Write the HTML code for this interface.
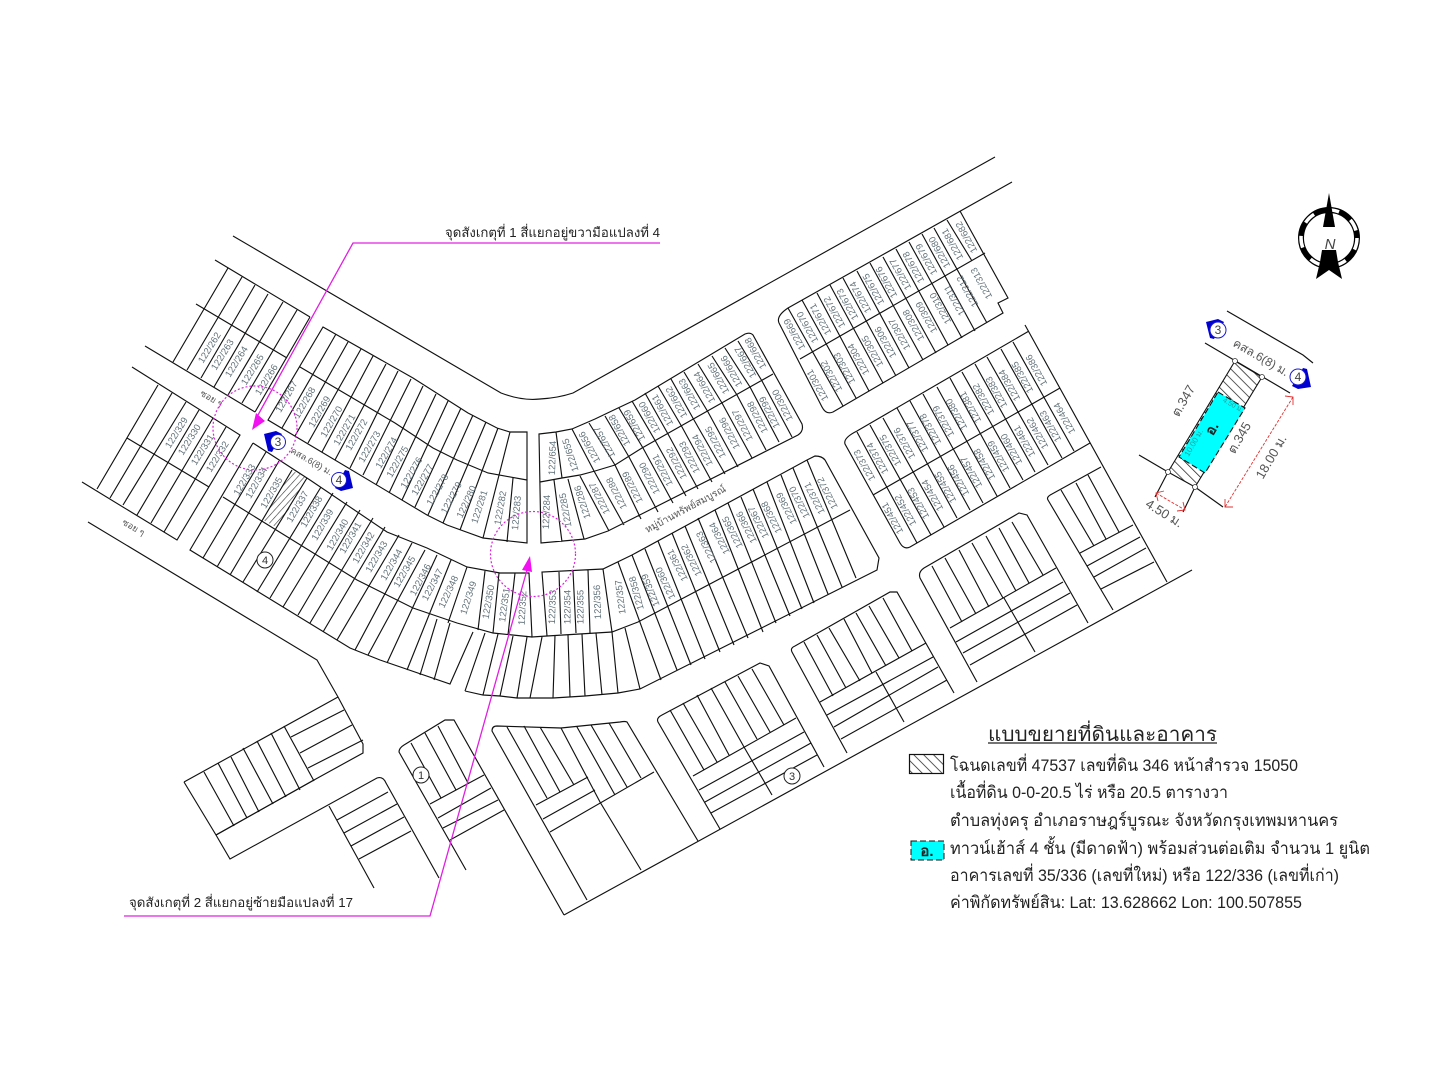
<!DOCTYPE html>
<html><head><meta charset="utf-8"><style>
html,body{margin:0;padding:0;background:#fff}
svg{display:block;filter:blur(.35px)}
.l{fill:none;stroke:#111;stroke-width:1.15}
.t text{font:9.5px "Liberation Sans","DejaVu Sans",sans-serif;fill:#63737b;text-anchor:middle;dominant-baseline:central}
.g{font-family:"Liberation Sans","DejaVu Sans","Noto Sans CJK JP",sans-serif;fill:#555}
.k{font-family:"Liberation Sans","DejaVu Sans","Noto Sans CJK JP",sans-serif;fill:#222}
</style></head><body>
<svg width="1440" height="1080" viewBox="0 0 1440 1080" xmlns="http://www.w3.org/2000/svg">
<defs>
<pattern id="h2" width="7" height="7" patternUnits="userSpaceOnUse" patternTransform="rotate(-45)"><rect width="7" height="7" fill="#fff"/><line x1="0" y1="0" x2="0" y2="7" stroke="#222" stroke-width="1.5"/></pattern>
<pattern id="h3" width="5" height="5" patternUnits="userSpaceOnUse" patternTransform="rotate(42)"><rect width="5" height="5" fill="#fff"/><line x1="0" y1="0" x2="0" y2="5" stroke="#333" stroke-width="1.2"/></pattern>
</defs>
<rect width="1440" height="1080" fill="#fff"/>

<polygon points="292,470 307,478 278,528 263,520" fill="url(#h3)"/>

<!-- roads -->
<path class="l" d="M233,236L501,393Q522,401 540,399Q558,398 573,393L995,157M779,323Q776,316 788,308L1012,182M564,915L1192,570M88,522L317,660L338,697L363,744L363,753L314,780L216,835L230,859L377,778Q383,776 386,783L439,878M184,782L338,697M184,782L216,835M329,806L374,888"/>

<!-- Block A -->
<path class="l" d="M215,260L310,317M196,304L287,358M145,346L255,412M228,268L173,362M242,277L187,370M255,285L201,378M268,294L214,387M283,302L228,395M297,310L242,403M310,317L255,412"/>
<!-- Block B -->
<path class="l" d="M323,327L413,378L468,413L497,428L510,432L527,432L527,543L483,538L447,525L427,515L268,420ZM300,367L395,423L433,448L457,460L488,473L527,480M336,334L282,428M348,342L295,436M361,349L308,443M373,356L322,452M386,364L335,460M398,371L350,468M411,379L363,475M423,386L376,485M436,394L389,493M448,401L402,500M461,408L415,507M473,415L428,515M486,422L443,523M498,428L460,530M510,432L483,538M513,478L507,542"/>
<!-- Block C -->
<path class="l" d="M132,367L240,435L177,540L82,482M127,438L209,487M158,385L97,489M172,393L110,498M186,402L123,505M199,410L137,515M213,418L151,523M226,427L164,532"/>
<!-- Block D -->
<path class="l" d="M253,443L310,480L387,532L427,548L467,567L500,573L529,573L532,637L547,636L612,632L638,622L850,510M253,443L190,550L350,648L380,660L450,684L473,632M223,497L357,580L413,608L457,623L493,633L532,637M266,452L203,558M279,461L217,567M292,470L230,575M307,478L243,582M321,487L257,592M333,493L270,598M347,502L283,607M360,510L298,615M373,518L310,623M385,527L323,632M399,535L337,640M412,543L355,650M425,550L368,655M437,555L387,663M451,560L407,670M467,567L448,623M420,675L437,619M434,680L450,623M485,571L478,630M499,573L493,633M515,573L508,635"/>
<!-- Lower row middle -->
<path class="l" d="M465,691L483,695L500,696L517,698L553,698L585,696L618,693L640,689L877,570L879,558L825,460Q822,456 815,456L807,460L632,555L603,569L542,572L547,636M465,691L485,633M483,695L498,634M500,696L513,636M517,698L527,637M530,698L542,637M553,698L555,635M570,697L568,635M585,696L582,634M602,695L596,633M618,693L612,632M640,689L625,628M559,572L561,634M573,571L576,633M588,570L590,633M603,569L612,632M618,562L661,680M632,555L677,670M645,549L691,665M658,541L705,659M672,533L720,652M685,526L734,645M698,518L748,638M715,510L763,632M728,503L776,623M741,497L790,616M753,489L802,609M767,482L814,603M781,475L828,594M793,468L842,587M807,460L856,578"/>
<!-- Center block -->
<path class="l" d="M539,434L556,432L572,429L595,419L618,408L635,400L745,334Q750,332 753,335L802,424Q804,431 798,435L608,531L585,539L541,543ZM540,482L562,478L580,475L595,471L615,465L642,448L773,374M556,432L562,478M554,480L562,542M568,479L584,539M572,429L594,471M589,423L615,465M605,416L629,457M619,408L643,448M632,401L656,442M645,393L668,434M658,386L682,427M671,379L694,420M684,372L708,412M698,364L722,403M712,356L737,395M725,348L750,387M738,341L762,381M580,476L609,531M594,471L624,525M615,465L641,519M629,457L658,512M643,448L673,503M656,442L686,496M668,434L698,489M682,427L712,482M694,420L725,474M708,412L738,467M722,403L752,458M737,395L766,450M750,387L779,442M762,381L792,437"/>
<!-- NE-1 -->
<path class="l" d="M779,323L822,407Q826,415 833,412L1003,313L998,303L1008,298L960,211M800,359L985,253M788,308L843,406M802,300L856,398M817,293L869,391M830,285L883,383M843,278L896,376M857,271L909,368M870,263L923,360M883,257L936,353M896,249L948,345M909,242L962,338M922,234L975,331M934,228L987,323M947,220L972,261"/>
<!-- NE-2 -->
<path class="l" d="M1029,331L857,431Q843,438 845,444L900,543Q904,550 910,547L1090,443M1025,325L1167,582M873,495L1060,388M857,432L917,543M870,425L931,535M883,418L944,527M897,408L957,518M910,401L970,510M923,394L983,503M937,387L997,496M950,378L1010,488M962,372L1023,480M975,364L1035,472M987,357L1048,465M1001,349L1062,458M1013,342L1074,451"/>
<!-- West lots -->
<path class="l" d="M216,835L314,780M204,772L234,826M218,763L247,818M231,757L259,812M243,748L273,804M257,741L286,797M271,733L300,790M284,726L314,781M291,737L344,710M300,753L352,725M308,768L363,740"/>
<path class="l" d="M337,820L388,792M344,833L397,804M351,846L404,817M359,859L411,831"/>
<!-- Block 1 -->
<path class="l" d="M466,870L399,752Q399,748 404,745L445,720L454,720L564,915M450,840L504,810M430,804L484,775M438,818L491,788M443,828L498,800M411,743L441,798M425,733L456,790M438,726L468,783"/>
<!-- SW big -->
<path class="l" d="M587,900L492,731Q492,726 497,726L561,728L620,722Q625,721 627,722L698,841M536,805L588,777M543,819L595,790M550,832L654,772M507,727L547,798M524,726L560,792M540,727L574,785M561,728L600,802L641,870M577,727L615,795M591,725L627,787M609,723L641,778"/>
<!-- F -->
<path class="l" d="M720,829L658,722Q656,718 662,715L760,663L769,666L824,767M693,776L796,718M699,790L804,732M705,802L811,743M711,813L817,755M670,710L704,770M683,703L717,762M697,695L729,755M711,688L744,747M725,682L757,739M738,676L770,732M752,669L784,725M744,747L772,795"/>
<!-- G -->
<path class="l" d="M847,753L792,652Q790,648 795,646L890,592L897,592L954,693M820,702L926,643M827,715L933,657M834,727L938,667M841,739L947,680M804,642L833,696M817,635L846,688M829,628L860,681M844,619L872,673M856,613L886,666M869,606L899,658M883,598L912,651M876,672L904,722"/>
<!-- H -->
<path class="l" d="M977,682L920,578Q918,572 924,568L1019,513L1027,515L1088,623M950,628L1056,568M956,642L1063,582M963,653L1070,593M970,665L1077,605M932,566L962,622M945,558L976,614M959,550L989,607M972,543L1003,598M986,536L1016,591M999,528L1029,583M1012,522L1043,575M1004,598L1035,652"/>
<!-- I -->
<path class="l" d="M1113,610L1048,500Q1046,497 1052,494L1101,467M1080,553L1133,525M1087,566L1140,537M1094,577L1146,548M1101,589L1154,562M1061,490L1094,546M1076,483L1106,539M1088,475L1119,532"/>

<!-- lot labels -->
<g class="t">
<text transform="translate(210 348) rotate(-58)">122/262</text><text transform="translate(223 355) rotate(-58)">122/263</text><text transform="translate(237 362) rotate(-58)">122/264</text><text transform="translate(253 370) rotate(-58)">122/265</text><text transform="translate(267 380) rotate(-58)">122/266</text>
<text transform="translate(287 397) rotate(-60)">122/267</text><text transform="translate(305 403) rotate(-60)">122/268</text><text transform="translate(320 412) rotate(-60)">122/269</text><text transform="translate(332 422) rotate(-60)">122/270</text><text transform="translate(345 430) rotate(-60)">122/271</text><text transform="translate(357 435) rotate(-60)">122/272</text><text transform="translate(370 447) rotate(-60)">122/273</text><text transform="translate(387 453) rotate(-60)">122/274</text><text transform="translate(398 462) rotate(-60)">122/275</text><text transform="translate(412 473) rotate(-60)">122/276</text><text transform="translate(423 480) rotate(-60)">122/277</text><text transform="translate(438 490) rotate(-60)">122/278</text><text transform="translate(452 498) rotate(-62)">122/279</text><text transform="translate(467 502) rotate(-65)">122/280</text><text transform="translate(480 507) rotate(-72)">122/281</text><text transform="translate(501 508) rotate(-80)">122/282</text><text transform="translate(517 513) rotate(-85)">122/283</text>
<text transform="translate(177 433) rotate(-58)">122/329</text><text transform="translate(190 440) rotate(-58)">122/330</text><text transform="translate(203 450) rotate(-58)">122/331</text><text transform="translate(218 457) rotate(-58)">122/332</text>
<text transform="translate(245 480) rotate(-60)">122/333</text><text transform="translate(257 483) rotate(-60)">122/334</text><text transform="translate(272 493) rotate(-60)">122/335</text><text transform="translate(298 507) rotate(-60)">122/337</text><text transform="translate(312 512) rotate(-60)">122/338</text><text transform="translate(323 525) rotate(-60)">122/339</text><text transform="translate(338 535) rotate(-60)">122/340</text><text transform="translate(351 538) rotate(-60)">122/341</text><text transform="translate(364 548) rotate(-60)">122/342</text><text transform="translate(377 557) rotate(-60)">122/343</text><text transform="translate(392 565) rotate(-60)">122/344</text><text transform="translate(405 572) rotate(-60)">122/345</text><text transform="translate(421 580) rotate(-62)">122/346</text><text transform="translate(433 585) rotate(-62)">122/347</text><text transform="translate(449 592) rotate(-65)">122/348</text><text transform="translate(469 598) rotate(-72)">122/349</text><text transform="translate(489 602) rotate(-80)">122/350</text><text transform="translate(505 605) rotate(-82)">122/351</text><text transform="translate(523 608) rotate(-87)">122/352</text>
<text transform="translate(553 607) rotate(-88)">122/353</text><text transform="translate(568 607) rotate(-90)">122/354</text><text transform="translate(581 607) rotate(-90)">122/355</text><text transform="translate(598 602) rotate(-92)">122/356</text><text transform="translate(621 597) rotate(-97)">122/357</text><text transform="translate(637 593) rotate(-105)">122/358</text><text transform="translate(651 590) rotate(-112)">122/359</text><text transform="translate(666 583) rotate(-115)">122/360</text><text transform="translate(678 565) rotate(-117)">122/361</text><text transform="translate(692 560) rotate(-117)">122/362</text><text transform="translate(707 547) rotate(-117)">122/363</text><text transform="translate(720 538) rotate(-117)">122/364</text><text transform="translate(733 532) rotate(-117)">122/365</text><text transform="translate(747 527) rotate(-117)">122/366</text><text transform="translate(759 522) rotate(-117)">122/367</text><text transform="translate(772 517) rotate(-117)">122/368</text><text transform="translate(787 508) rotate(-117)">122/369</text><text transform="translate(800 502) rotate(-117)">122/370</text><text transform="translate(815 498) rotate(-117)">122/371</text><text transform="translate(828 493) rotate(-117)">122/372</text>
<text transform="translate(553 458) rotate(-88)">122/654</text><text transform="translate(571 455) rotate(-108)">122/655</text><text transform="translate(590 447) rotate(-119)">122/656</text><text transform="translate(605 442) rotate(-119)">122/657</text><text transform="translate(620 430) rotate(-119)">122/658</text><text transform="translate(635 425) rotate(-119)">122/659</text><text transform="translate(650 417) rotate(-119)">122/660</text><text transform="translate(663 410) rotate(-119)">122/661</text><text transform="translate(677 402) rotate(-119)">122/662</text><text transform="translate(690 394) rotate(-119)">122/663</text><text transform="translate(705 387) rotate(-119)">122/664</text><text transform="translate(719 378) rotate(-119)">122/665</text><text transform="translate(732 371) rotate(-119)">122/666</text><text transform="translate(746 362) rotate(-119)">122/667</text><text transform="translate(756 353) rotate(-119)">122/668</text>
<text transform="translate(547 512) rotate(-88)">122/284</text><text transform="translate(566 510) rotate(-100)">122/285</text><text transform="translate(583 502) rotate(-108)">122/286</text><text transform="translate(600 498) rotate(-117)">122/287</text><text transform="translate(617 493) rotate(-117)">122/288</text><text transform="translate(633 487) rotate(-117)">122/289</text><text transform="translate(650 478) rotate(-117)">122/290</text><text transform="translate(663 470) rotate(-117)">122/291</text><text transform="translate(677 463) rotate(-117)">122/292</text><text transform="translate(690 457) rotate(-117)">122/293</text><text transform="translate(703 450) rotate(-117)">122/294</text><text transform="translate(716 442) rotate(-117)">122/295</text><text transform="translate(730 433) rotate(-117)">122/296</text><text transform="translate(743 425) rotate(-117)">122/297</text><text transform="translate(758 417) rotate(-117)">122/298</text><text transform="translate(770 412) rotate(-117)">122/299</text><text transform="translate(783 405) rotate(-117)">122/300</text>
<text transform="translate(795 334) rotate(-119)">122/669</text><text transform="translate(808 327) rotate(-119)">122/670</text><text transform="translate(821 319) rotate(-119)">122/671</text><text transform="translate(835 312) rotate(-119)">122/672</text><text transform="translate(848 304) rotate(-119)">122/673</text><text transform="translate(861 297) rotate(-119)">122/674</text><text transform="translate(874 289) rotate(-119)">122/675</text><text transform="translate(887 282) rotate(-119)">122/676</text><text transform="translate(901 274) rotate(-119)">122/677</text><text transform="translate(914 267) rotate(-119)">122/678</text><text transform="translate(927 259) rotate(-119)">122/679</text><text transform="translate(940 252) rotate(-119)">122/680</text><text transform="translate(953 244) rotate(-119)">122/681</text><text transform="translate(967 237) rotate(-119)">122/682</text>
<text transform="translate(818 385) rotate(-119)">122/301</text><text transform="translate(832 376) rotate(-119)">122/302</text><text transform="translate(845 368) rotate(-119)">122/303</text><text transform="translate(859 359) rotate(-119)">122/304</text><text transform="translate(873 351) rotate(-119)">122/305</text><text transform="translate(886 342) rotate(-119)">122/306</text><text transform="translate(900 334) rotate(-119)">122/307</text><text transform="translate(914 325) rotate(-119)">122/308</text><text transform="translate(927 317) rotate(-119)">122/309</text><text transform="translate(941 308) rotate(-119)">122/310</text><text transform="translate(955 300) rotate(-119)">122/311</text><text transform="translate(968 291) rotate(-119)">122/312</text><text transform="translate(982 283) rotate(-119)">122/313</text>
<text transform="translate(865 465) rotate(-119)">122/373</text><text transform="translate(878 458) rotate(-119)">122/374</text><text transform="translate(891 450) rotate(-119)">122/375</text><text transform="translate(905 443) rotate(-119)">122/376</text><text transform="translate(918 436) rotate(-119)">122/377</text><text transform="translate(931 429) rotate(-119)">122/378</text><text transform="translate(944 421) rotate(-119)">122/379</text><text transform="translate(957 414) rotate(-119)">122/380</text><text transform="translate(971 407) rotate(-119)">122/381</text><text transform="translate(984 399) rotate(-119)">122/382</text><text transform="translate(997 392) rotate(-119)">122/383</text><text transform="translate(1010 385) rotate(-119)">122/384</text><text transform="translate(1023 377) rotate(-119)">122/385</text><text transform="translate(1037 370) rotate(-119)">122/386</text>
<text transform="translate(893 518) rotate(-119)">122/451</text><text transform="translate(906 510) rotate(-119)">122/452</text><text transform="translate(919 503) rotate(-119)">122/453</text><text transform="translate(933 495) rotate(-119)">122/454</text><text transform="translate(946 487) rotate(-119)">122/455</text><text transform="translate(959 480) rotate(-119)">122/456</text><text transform="translate(972 472) rotate(-119)">122/457</text><text transform="translate(985 464) rotate(-119)">122/458</text><text transform="translate(999 456) rotate(-119)">122/459</text><text transform="translate(1012 449) rotate(-119)">122/460</text><text transform="translate(1025 441) rotate(-119)">122/461</text><text transform="translate(1038 433) rotate(-119)">122/462</text><text transform="translate(1051 426) rotate(-119)">122/463</text><text transform="translate(1065 418) rotate(-119)">122/464</text>
</g>

<!-- small text on the map -->
<text class="g" font-size="9" text-anchor="middle" transform="translate(210 401) rotate(30)">ซอย ๆ</text>
<text class="g" font-size="9" text-anchor="middle" transform="translate(132 530) rotate(30)">ซอย ๆ</text>
<text class="g" font-size="9" text-anchor="middle" transform="translate(310 464) rotate(30)">คสล.6(8) ม.</text>
<text class="g" font-size="10" text-anchor="middle" transform="translate(687 512) rotate(-28)" textLength="90" lengthAdjust="spacingAndGlyphs">หมู่บ้านทรัพย์สมบูรณ์</text>

<!-- numbered black circles -->
<g fill="#fff" stroke="#222" stroke-width="1"><circle cx="265" cy="560" r="8"/><circle cx="421" cy="775" r="8"/><circle cx="792" cy="776" r="8"/></g>
<g font-family="Liberation Sans,sans-serif" font-size="11" fill="#333" text-anchor="middle"><text x="265" y="564">4</text><text x="421" y="779">1</text><text x="792" y="780">3</text></g>

<!-- blue markers -->
<polygon points="264,434 276,431 282,434 272,452 268,451" fill="#0000d0"/><circle cx="278" cy="442" r="7.5" fill="#fff" stroke="#1a1ad0"/><text x="278" y="446" font-family="Liberation Sans,sans-serif" font-size="12" fill="#444" text-anchor="middle">3</text>
<polygon points="353,488 341,491 335,488 345,470 349,471" fill="#0000d0"/><circle cx="339" cy="480" r="7.5" fill="#fff" stroke="#1a1ad0"/><text x="339" y="484" font-family="Liberation Sans,sans-serif" font-size="12" fill="#444" text-anchor="middle">4</text>

<!-- magenta callouts -->
<circle cx="255" cy="428" r="42" fill="none" stroke="#e020e0" stroke-width="1.2" stroke-dasharray="2 2"/>
<circle cx="533" cy="554" r="42.5" fill="none" stroke="#e020e0" stroke-width="1.2" stroke-dasharray="2 2"/>
<path d="M660,243L353,243L258,415" fill="none" stroke="#e020e0" stroke-width="1.3"/>
<polygon points="252,430 265,421 256,413" fill="#f010f0"/>
<path d="M124,916L430,916L527,570" fill="none" stroke="#e020e0" stroke-width="1.3"/>
<polygon points="530,556 522,570 532,572" fill="#f010f0"/>
<text class="k" x="445" y="237" font-size="13" textLength="215" lengthAdjust="spacingAndGlyphs">จุดสังเกตุที่ 1 สี่แยกอยู่ขวามือแปลงที่ 4</text>
<text class="k" x="129" y="907" font-size="13" textLength="224" lengthAdjust="spacingAndGlyphs">จุดสังเกตุที่ 2 สี่แยกอยู่ซ้ายมือแปลงที่ 17</text>

<!-- compass -->
<circle cx="1329" cy="238" r="28" fill="none" stroke="#000" stroke-width="6"/>
<circle cx="1329" cy="238" r="28" fill="none" stroke="#fff" stroke-width="3.5" stroke-dasharray="12 14"/>
<polygon points="1329,193 1323,227 1335,227" fill="#000"/>
<polygon points="1322,250 1336,250 1338,262 1342,279 1329,270 1316,279 1320,262" fill="#000"/>
<text x="1330" y="249" font-family="Liberation Sans,sans-serif" font-size="15" font-style="italic" fill="#444" text-anchor="middle">N</text>

<!-- parcel detail -->
<path class="l" d="M1227,311L1303,355L1313,363M1205,343L1290,393M1139,455L1168,472M1195,487L1223,507M1168,472L1155,497M1195,487L1183,512"/>
<polygon points="1235,361 1262,377 1195,487 1168,472" fill="url(#h2)" stroke="#111" stroke-width="1.1"/>
<polygon points="1218,392 1245,408 1205,473 1179,457" fill="#00ffff" stroke="#111" stroke-width="1.1" stroke-dasharray="6 3"/>
<g fill="#fff" stroke="#333" stroke-width=".8"><circle cx="1235" cy="361" r="2.5"/><circle cx="1262" cy="377" r="2.5"/><circle cx="1168" cy="472" r="2.5"/><circle cx="1195" cy="487" r="2.5"/></g>
<path d="M1293,397L1225,507M1156,493L1185,510" stroke="#e03030" stroke-width=".9" stroke-dasharray="3 1.5" fill="none"/>
<path d="M1285,396L1293,397L1293,405M1225,499L1225,507L1233,507M1158,501L1156,493L1164,491M1177,511L1185,510L1183,502" stroke="#e03030" stroke-width=".9" fill="none"/>
<text class="g" font-size="13" text-anchor="middle" transform="translate(1187 403) rotate(-60)">ต.347</text>
<text class="g" font-size="13" text-anchor="middle" transform="translate(1243 440) rotate(-60)">ต.345</text>
<text class="g" font-size="13" text-anchor="middle" transform="translate(1275 459) rotate(-60)">18.00 ม.</text>
<text class="g" font-size="13" text-anchor="middle" transform="translate(1162 517) rotate(32)">4.50 ม.</text>
<text class="g" font-size="12" text-anchor="middle" transform="translate(1259 361) rotate(30)">คสล.6(8) ม.</text>
<text font-family="Liberation Sans,DejaVu Sans,sans-serif" font-size="7" fill="#2a9a9a" text-anchor="middle" transform="translate(1232 407) rotate(30)">4.50 ม.</text>
<text font-family="Liberation Sans,DejaVu Sans,sans-serif" font-size="8" fill="#2a9a9a" text-anchor="middle" transform="translate(1196 444) rotate(-60)">10.00 ม.</text>
<text class="k" font-size="14" font-weight="bold" text-anchor="middle" transform="translate(1216 431) rotate(-60)">อ.</text>
<polygon points="1206,322 1218,319 1224,322 1214,339 1210,338" fill="#0000d0"/><circle cx="1218" cy="330" r="8" fill="#fff" stroke="#1a1ad0"/><text x="1218" y="334" font-family="Liberation Sans,sans-serif" font-size="12" fill="#444" text-anchor="middle">3</text>
<polygon points="1311,387 1298,389 1292,386 1303,368 1307,369" fill="#0000d0"/><circle cx="1298" cy="377" r="8" fill="#fff" stroke="#1a1ad0"/><text x="1298" y="381" font-family="Liberation Sans,sans-serif" font-size="12" fill="#444" text-anchor="middle">4</text>

<!-- legend -->
<text class="k" x="988" y="741" font-size="20" textLength="229" lengthAdjust="spacingAndGlyphs">แบบขยายที่ดินและอาคาร</text>
<line x1="988" y1="743" x2="1217" y2="743" stroke="#222" stroke-width="1.2"/>
<rect x="909.5" y="754.5" width="34" height="19" fill="url(#h2)" stroke="#111" stroke-width="1.2"/>
<rect x="911" y="841" width="33" height="19" fill="#00ffff" stroke="#111" stroke-width="1" stroke-dasharray="6 3"/>
<text class="k" x="927" y="856" font-size="15" font-weight="bold" text-anchor="middle">อ.</text>
<text class="k" x="950" y="771" font-size="17" textLength="348" lengthAdjust="spacingAndGlyphs">โฉนดเลขที่ 47537 เลขที่ดิน 346 หน้าสำรวจ 15050</text>
<text class="k" x="950" y="798" font-size="17" textLength="278" lengthAdjust="spacingAndGlyphs">เนื้อที่ดิน 0-0-20.5 ไร่ หรือ 20.5 ตารางวา</text>
<text class="k" x="950" y="826" font-size="17" textLength="388" lengthAdjust="spacingAndGlyphs">ตำบลทุ่งครุ อำเภอราษฎร์บูรณะ จังหวัดกรุงเทพมหานคร</text>
<text class="k" x="950" y="854" font-size="17" textLength="420" lengthAdjust="spacingAndGlyphs">ทาวน์เฮ้าส์ 4 ชั้น (มีดาดฟ้า) พร้อมส่วนต่อเติม จำนวน 1 ยูนิต</text>
<text class="k" x="950" y="881" font-size="17" textLength="389" lengthAdjust="spacingAndGlyphs">อาคารเลขที่ 35/336 (เลขที่ใหม่) หรือ 122/336 (เลขที่เก่า)</text>
<text class="k" x="950" y="908" font-size="17" textLength="352" lengthAdjust="spacingAndGlyphs">ค่าพิกัดทรัพย์สิน: Lat: 13.628662  Lon: 100.507855</text>
</svg>
</body></html>
